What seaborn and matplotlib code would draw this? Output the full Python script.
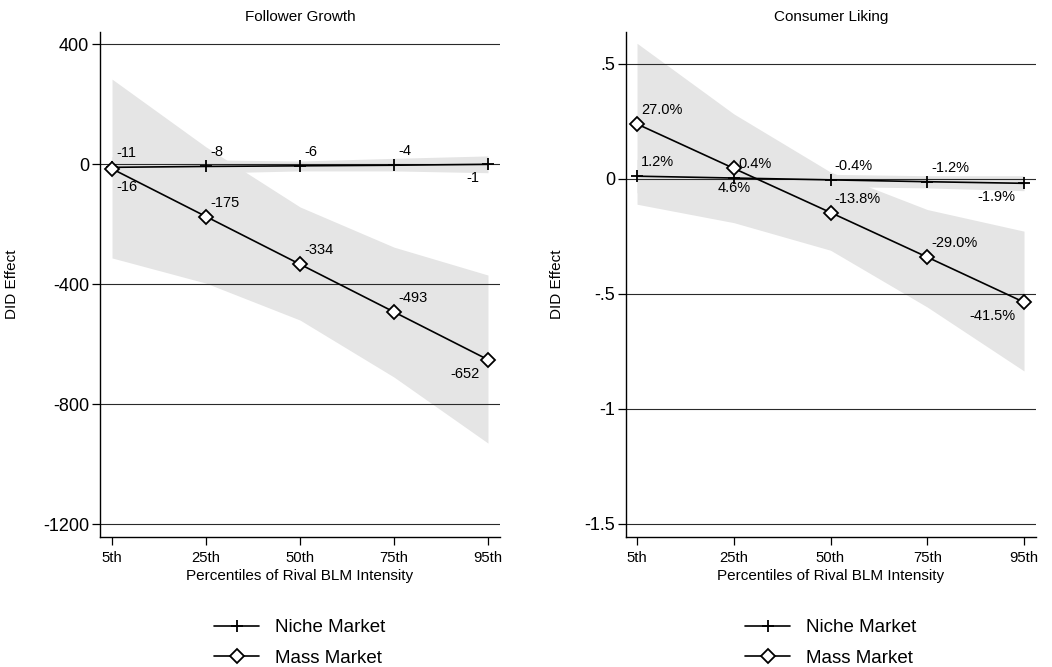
import numpy as np
import pandas as pd
import matplotlib
matplotlib.use("Agg")
import matplotlib.pyplot as plt
import seaborn as sns

# ---- data -------------------------------------------------------------
percentiles = ["5th", "25th", "50th", "75th", "95th"]

# Follower growth: DID effects by percentile of rival BLM intensity
follower_niche = [-11, -8, -6, -4, -1]
follower_niche_lo = [-45, -30, -23, -23, -29]
follower_niche_hi = [25, 14, 10, 19, 27]
follower_mass = [-16, -175, -334, -493, -652]
follower_mass_lo = [-313, -397, -520, -710, -930]
follower_mass_hi = [283, 57, -143, -277, -370]

# Consumer liking: DID effects and the percentage effects printed beside them
liking_niche = [0.012, 0.004, -0.004, -0.012, -0.019]
liking_niche_lo = [-0.060, -0.035, -0.033, -0.039, -0.051]
liking_niche_hi = [0.085, 0.045, 0.020, 0.014, 0.014]
liking_niche_pct = ["1.2%", "0.4%", "-0.4%", "-1.2%", "-1.9%"]
liking_mass = [0.239, 0.046, -0.146, -0.340, -0.536]
liking_mass_lo = [-0.110, -0.190, -0.310, -0.557, -0.835]
liking_mass_hi = [0.590, 0.283, 0.030, -0.133, -0.227]
liking_mass_pct = ["27.0%", "4.6%", "-13.8%", "-29.0%", "-41.5%"]

follower_yticks = [400, 0, -400, -800, -1200]
follower_yticklabels = ["400", "0", "-400", "-800", "-1200"]
liking_yticks = [0.5, 0, -0.5, -1, -1.5]
liking_yticklabels = [".5", "0", "-.5", "-1", "-1.5"]

# ---- style ------------------------------------------------------------
sns.set_style("ticks")
plt.rcParams["font.family"] = ["Liberation Sans", "DejaVu Sans"]
plt.rcParams["axes.unicode_minus"] = False
for key in ("text.color", "axes.labelcolor", "xtick.color", "ytick.color",
            "xtick.labelcolor", "ytick.labelcolor"):
    plt.rcParams[key] = "black"

BAND = "#e5e5e5"
INK = "black"

# label placement: (dx, dy) in points, ha, va
PLACE = {
    "ur": ((3, 5), "left", "bottom"),
    "lr": ((3, -8), "left", "top"),
    "ll": ((-6, -5), "right", "top"),
    "b": ((0, -9), "center", "top"),
}

W, H = 1052, 667
fig = plt.figure(figsize=(W / 100, H / 100), dpi=100)
ax_l = fig.add_axes([100 / W, 130 / H, 400 / W, 505 / H])
ax_r = fig.add_axes([626 / W, 130 / H, 410 / W, 505 / H])

x = np.arange(len(percentiles))


def panel(ax, title, niche, nlo, nhi, mass, mlo, mhi, nlab, mlab, npos, mpos,
          yticks, ylabels, ylim, xlim):
    ax.fill_between(x, mlo, mhi, color=BAND, lw=0, zorder=1)
    ax.fill_between(x, nlo, nhi, color=BAND, lw=0, zorder=1)
    sns.lineplot(x=x, y=niche, ax=ax, color=INK, lw=1.2, marker="+",
                 markersize=8, markeredgewidth=1.3, markeredgecolor=INK,
                 label="Niche Market", zorder=3, legend=False)
    sns.lineplot(x=x, y=mass, ax=ax, color=INK, lw=1.2, marker="D",
                 markersize=7.5, markeredgewidth=1.3, markerfacecolor="white",
                 markeredgecolor=INK, label="Mass Market", zorder=3,
                 legend=False)
    for xi, yi, t, p in zip(x, niche, nlab, npos):
        off, ha, va = PLACE[p]
        ax.annotate(t, (xi, yi), xytext=off, textcoords="offset points",
                    ha=ha, va=va, fontsize=10.5, zorder=4)
    for xi, yi, t, p in zip(x, mass, mlab, mpos):
        off, ha, va = PLACE[p]
        ax.annotate(t, (xi, yi), xytext=off, textcoords="offset points",
                    ha=ha, va=va, fontsize=10.5, zorder=4)

    ax.set_xlim(*xlim)
    ax.set_ylim(*ylim)
    ax.set_xticks(x)
    ax.set_xticklabels(percentiles)
    ax.set_yticks(yticks)
    ax.set_yticklabels(ylabels)
    ax.tick_params(axis="y", labelsize=13, length=6, width=0.9, pad=2,
                   direction="out", color=INK)
    ax.tick_params(axis="x", labelsize=10.7, length=6, width=0.9, pad=4,
                   direction="out", color=INK)
    ax.set_axisbelow("line")
    ax.grid(axis="y", color="#2a2a2a", lw=0.8)
    ax.grid(axis="x", visible=False)
    for s in ("top", "right"):
        ax.spines[s].set_visible(False)
    for s in ("left", "bottom"):
        ax.spines[s].set_color(INK)
        ax.spines[s].set_linewidth(1.0)
    ax.set_title(title, fontsize=11, pad=8)
    ax.set_xlabel("Percentiles of Rival BLM Intensity", fontsize=11, labelpad=3)
    ax.set_ylabel("DID Effect", fontsize=11)

    handles = ax.get_lines()[:2]
    ax.legend(handles, ["Niche Market", "Mass Market"], loc="center",
              bbox_to_anchor=(0.5, -0.21), frameon=False, fontsize=13.5,
              handlelength=2.4, handletextpad=0.85, labelspacing=0.7)


panel(ax_l, "Follower Growth",
      follower_niche, follower_niche_lo, follower_niche_hi,
      follower_mass, follower_mass_lo, follower_mass_hi,
      [str(v) for v in follower_niche], [str(v) for v in follower_mass],
      ["ur", "ur", "ur", "ur", "ll"], ["lr", "ur", "ur", "ur", "ll"],
      follower_yticks, follower_yticklabels, (-1243, 440), (-0.128, 4.128))

panel(ax_r, "Consumer Liking",
      liking_niche, liking_niche_lo, liking_niche_hi,
      liking_mass, liking_mass_lo, liking_mass_hi,
      liking_niche_pct, liking_mass_pct,
      ["ur", "ur", "ur", "ur", "ll"], ["ur", "b", "ur", "ur", "ll"],
      liking_yticks, liking_yticklabels, (-1.557, 0.639), (-0.114, 4.124))

ax_l.yaxis.set_label_coords(-0.2025, 0.5)
ax_r.yaxis.set_label_coords(-0.151, 0.5)

fig.savefig("out.png", dpi=100)
